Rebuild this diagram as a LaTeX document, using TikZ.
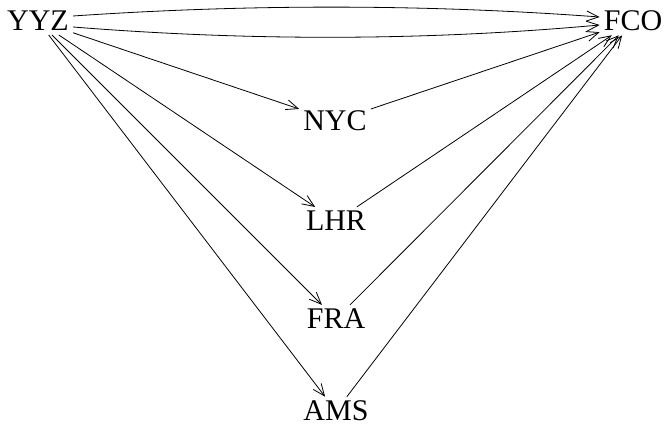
\documentclass[tikz,border=0pt]{standalone}
\usepackage{fontspec}
\setmainfont{Liberation Serif}
\usetikzlibrary{arrows.meta}
\begin{document}
\begin{tikzpicture}[x=1pt,y=-1pt,
  apt/.style={inner sep=4pt, font=\fontsize{30}{34}\selectfont},
  link/.style={-{Straight Barb[length=12pt,width=10pt]}, line width=0.8pt}]
\useasboundingbox (0,0) rectangle (666,430);
\node[apt] (yyz) at (38,21) {YYZ};
\node[apt] (fco) at (633,21) {FCO};
\node[apt] (nyc) at (335,121) {NYC};
\node[apt] (lhr) at (336,221) {LHR};
\node[apt] (fra) at (336,319) {FRA};
\node[apt] (ams) at (336,411) {AMS};
\draw[link] ([yshift=5pt]yyz.east) .. controls +(176,-12) and +(-176,-13) .. ([yshift=4pt]fco.west);
\draw[link] ([yshift=-6pt]yyz.east) .. controls +(176,14) and +(-176,16) .. ([yshift=-4pt]fco.west);
\draw[link] (yyz) -- (nyc);
\draw[link] (yyz) -- (lhr);
\draw[link] (yyz) -- (fra);
\draw[link] (yyz) -- (ams);
\draw[link] (nyc) -- (fco);
\draw[link] (lhr) -- (fco);
\draw[link] (fra) -- (fco);
\draw[link] (ams) -- (fco);
\end{tikzpicture}
\end{document}
